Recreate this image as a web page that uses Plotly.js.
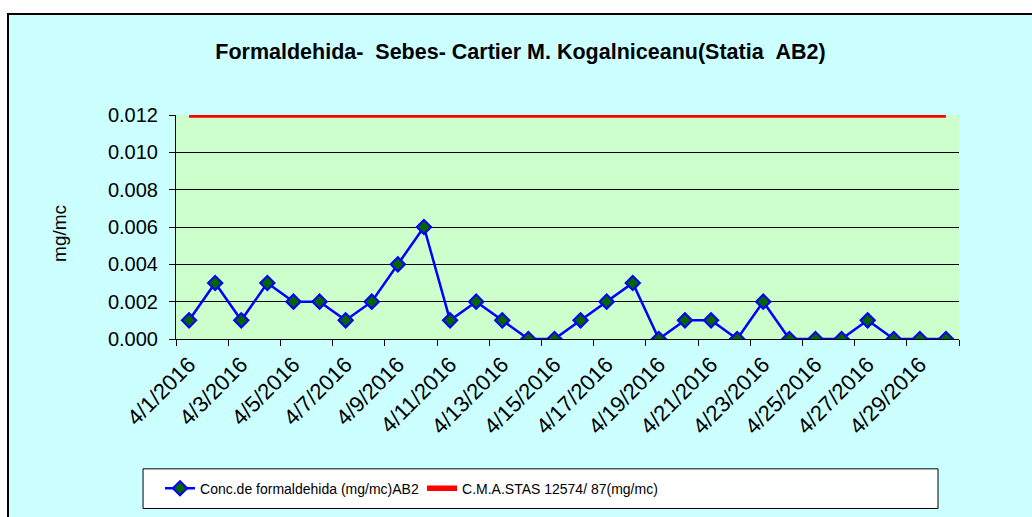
<!DOCTYPE html>
<html>
<head>
<meta charset="utf-8">
<script src="https://cdn.plot.ly/plotly-3.0.1.min.js"></script>
<style>
  html, body { margin: 0; padding: 0; background: #ffffff; width: 1032px; height: 517px; overflow: hidden; }
  #wrap { position: absolute; left: 7px; top: 13px; border-left: 2px solid #000; border-top: 2px solid #000; width: 1023px; height: 502px; background: #CCFFFF; }
  #chart { width: 1023px; height: 502px; }
</style>
</head>
<body>
<div id="wrap"><div id="chart"></div></div>
<script>
const dates = ['4/1/2016','4/2/2016','4/3/2016','4/4/2016','4/5/2016','4/6/2016','4/7/2016','4/8/2016','4/9/2016','4/10/2016',
               '4/11/2016','4/12/2016','4/13/2016','4/14/2016','4/15/2016','4/16/2016','4/17/2016','4/18/2016','4/19/2016','4/20/2016',
               '4/21/2016','4/22/2016','4/23/2016','4/24/2016','4/25/2016','4/26/2016','4/27/2016','4/28/2016','4/29/2016','4/30/2016'];
const concFormaldehida = [0.001,0.003,0.001,0.003,0.002,0.002,0.001,0.002,0.004,0.006,
                          0.001,0.002,0.001,0.000,0.000,0.001,0.002,0.003,0.000,0.001,
                          0.001,0.000,0.002,0.000,0.000,0.000,0.001,0.000,0.000,0.000];
const cmaStas = [0.012,0.012,0.012,0.012,0.012,0.012,0.012,0.012,0.012,0.012,
                 0.012,0.012,0.012,0.012,0.012,0.012,0.012,0.012,0.012,0.012,
                 0.012,0.012,0.012,0.012,0.012,0.012,0.012,0.012,0.012,0.012];
const seriesNames = ['Conc.de formaldehida (mg/mc)AB2', 'C.M.A.STAS 12574/ 87(mg/mc)'];
const chartTitle = 'Formaldehida-\u00a0\u00a0Sebes- Cartier M. Kogalniceanu(Statia\u00a0\u00a0AB2)';
const yTitle = 'mg/mc';

const FONT = 'Liberation Sans, Arial, Helvetica, sans-serif';

const traces = [
  {
    x: dates, y: concFormaldehida, name: seriesNames[0], type: 'scatter', mode: 'lines+markers',
    line: { color: '#0000FF', width: 2.5 },
    marker: { symbol: 'diamond', size: 11, color: '#006600', line: { color: '#0000FF', width: 2 } }
  },
  {
    x: dates, y: cmaStas, name: seriesNames[1], type: 'scatter', mode: 'lines',
    line: { color: '#FF0000', width: 5.5 }
  }
];

const layout = {
  width: 1023, height: 502,
  paper_bgcolor: '#CCFFFF',
  plot_bgcolor: '#CCFFCC',
  margin: { l: 167, r: 73, t: 100, b: 176 },
  font: { family: FONT, color: '#000000' },
  title: { text: '<b>' + chartTitle + '</b>', font: { family: FONT, size: 21.5, color: '#000' },
           x: 0.5, xref: 'container', xanchor: 'center', y: 0.928, yref: 'container', yanchor: 'middle' },
  xaxis: {
    type: 'category', range: [-0.5, 29.5], dtick: 2, tickson: 'boundaries',
    tickangle: -45, tickfont: { family: FONT, size: 22, color: '#000' },
    ticks: 'outside', ticklen: 6, tickcolor: '#000', tickwidth: 1, ticklabelstandoff: 3,
    showline: true, linecolor: '#000', linewidth: 1,
    showgrid: false, zeroline: false, fixedrange: true
  },
  yaxis: {
    range: [0, 0.012], dtick: 0.002, tick0: 0, tickformat: '.3f',
    tickfont: { family: FONT, size: 20, color: '#000' },
    ticks: 'outside', ticklen: 6, tickcolor: '#000', tickwidth: 1, ticklabelstandoff: 7,
    showline: true, linecolor: '#000', linewidth: 1,
    showgrid: true, gridcolor: '#000', gridwidth: 1, zeroline: false,
    fixedrange: true
  },
  annotations: [
    { text: yTitle, xref: 'paper', yref: 'paper', x: (60 - 176) / 783, y: (341 - 235) / 226,
      xanchor: 'center', yanchor: 'middle', textangle: -90, showarrow: false,
      font: { family: FONT, size: 19, color: '#000' } }
  ],
  showlegend: true,
  legend: {
    orientation: 'h', x: -0.0204, xanchor: 'left', y: -0.668, yanchor: 'middle',
    bgcolor: 'rgba(0,0,0,0)', borderwidth: 0,
    font: { family: FONT, size: 14, color: '#000' },
    entrywidth: 217, traceorder: 'normal'
  },
  shapes: [
    { type: 'rect', xref: 'paper', yref: 'paper', x0: -0.0421, x1: 0.9732, y0: -0.7566, y1: -0.5796,
      fillcolor: '#FFFFFF', line: { color: '#000', width: 1 }, layer: 'below' }
  ]
};

Plotly.newPlot('chart', traces, layout, { displayModeBar: false, staticPlot: true });
</script>
</body>
</html>
